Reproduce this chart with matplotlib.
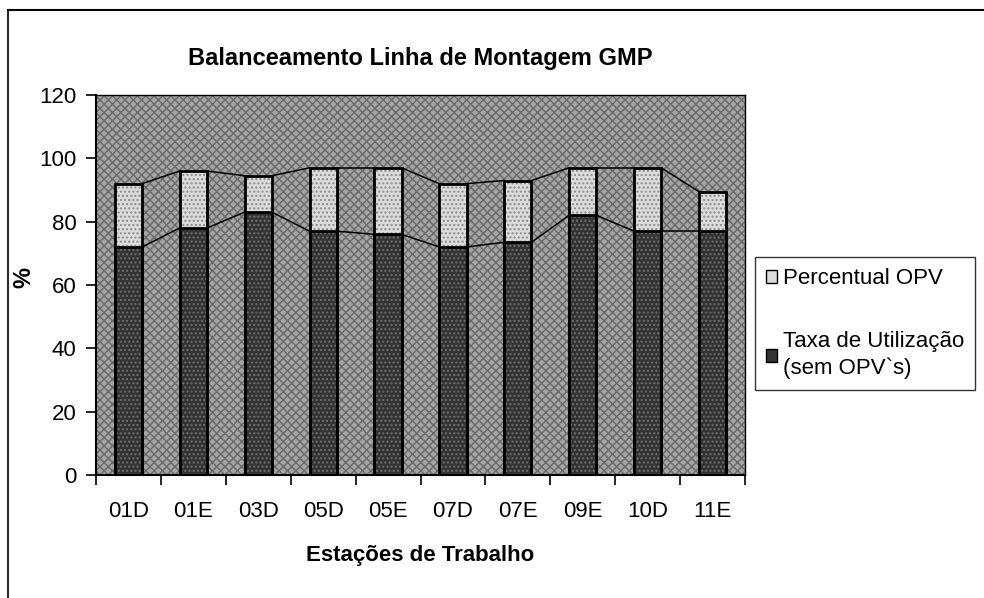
import matplotlib.pyplot as plt
import matplotlib.lines as mlines
import matplotlib.patches as mpatches
import numpy as np

plt.rcParams['font.family'] = ['Liberation Sans', 'DejaVu Sans']
plt.rcParams['hatch.linewidth'] = 1.0

estacoes = ['01D', '01E', '03D', '05D', '05E', '07D', '07E', '09E', '10D', '11E']
taxa_utilizacao = [72, 78, 83, 77, 76, 72, 73.5, 82, 77, 77]
total = [92, 96, 94.5, 97, 97, 92, 93, 97, 97, 89.5]
percentual_opv = [t - u for t, u in zip(total, taxa_utilizacao)]

fundo = '#a4a4a4'
cor_taxa = '#333333'
cor_opv = '#dcdcdc'
largura = 0.42

fig = plt.figure(figsize=(9.84, 5.98), dpi=100)
ax = fig.add_axes([96 / 984, 1 - 475 / 598, (745 - 96) / 984, (475 - 95) / 598])
ax.set_facecolor(fundo)
# textura retícula no fundo
ax.add_patch(mpatches.Rectangle((0, 0), 1, 1, transform=ax.transAxes, facecolor='none',
                                edgecolor='#6a6a6a', hatch='xxxx', linewidth=0, zorder=0.5))

x = np.arange(len(estacoes))
ax.bar(x, taxa_utilizacao, width=largura, color=cor_taxa, edgecolor='#707070',
       hatch='....', linewidth=0, zorder=3)
ax.bar(x, percentual_opv, width=largura, bottom=taxa_utilizacao, color=cor_opv,
       edgecolor='#8a8a8a', hatch='....', linewidth=0, zorder=3)
ax.bar(x, total, width=largura, fill=False, edgecolor='black', linewidth=2, zorder=4)
ax.bar(x, taxa_utilizacao, width=largura, fill=False, edgecolor='black', linewidth=2, zorder=4)

# linhas de série entre as barras
for nivel in (taxa_utilizacao, total):
    for i in range(len(x) - 1):
        ax.plot([x[i] + largura / 2, x[i + 1] - largura / 2], [nivel[i], nivel[i + 1]],
                color='black', linewidth=1.1, zorder=2)

ax.set_xlim(-0.5, len(x) - 0.5)
ax.set_ylim(0, 120)
ax.set_yticks(range(0, 121, 20))
ax.set_xticks(x)
ax.set_xticklabels(estacoes)
ax.set_xticks(np.arange(-0.5, len(x)), minor=True)
ax.tick_params(axis='x', which='major', length=0, pad=19, labelsize=16)
ax.tick_params(axis='x', which='minor', length=7, width=1.2, direction='out')
ax.tick_params(axis='y', length=7, width=1.2, direction='out', labelsize=16, pad=7)
for lado in ('top', 'right'):
    ax.spines[lado].set_linewidth(1.0)
for lado in ('left', 'bottom'):
    ax.spines[lado].set_linewidth(1.5)

fig.text(420 / 984, 1 - 58 / 598, 'Balanceamento Linha de Montagem GMP',
         ha='center', va='center', fontsize=17, fontweight='bold')
fig.text(420 / 984, 1 - 556 / 598, 'Estações de Trabalho',
         ha='center', va='center', fontsize=16, fontweight='bold')
fig.text(24 / 984, 1 - 277 / 598, '%', ha='center', va='center',
         fontsize=17, fontweight='bold', rotation=90)

h_opv = mpatches.Patch(facecolor=cor_opv, edgecolor='black', linewidth=1)
h_taxa = mpatches.Patch(facecolor=cor_taxa, edgecolor='black', linewidth=1)
leg = fig.legend([h_opv, h_taxa], ['Percentual OPV', 'Taxa de Utilização\n(sem OPV`s)'],
                 loc='upper left', bbox_to_anchor=(755 / 984, 1 - 257 / 598),
                 fontsize=16, frameon=True, fancybox=False, edgecolor='black',
                 handlelength=0.5, handleheight=0.5, handletextpad=0.25,
                 labelspacing=1.9, borderpad=0.5, borderaxespad=0)
leg.get_frame().set_linewidth(1.0)
for t in leg.get_texts():
    t.set_linespacing(1.3)

# moldura do gráfico
fig.add_artist(mlines.Line2D([8 / 984, 1], [1 - 10 / 598] * 2, color='black', linewidth=1.5))
fig.add_artist(mlines.Line2D([8 / 984] * 2, [0, 1 - 10 / 598], color='black', linewidth=1.2))

fig.savefig('out.png', dpi=100)
